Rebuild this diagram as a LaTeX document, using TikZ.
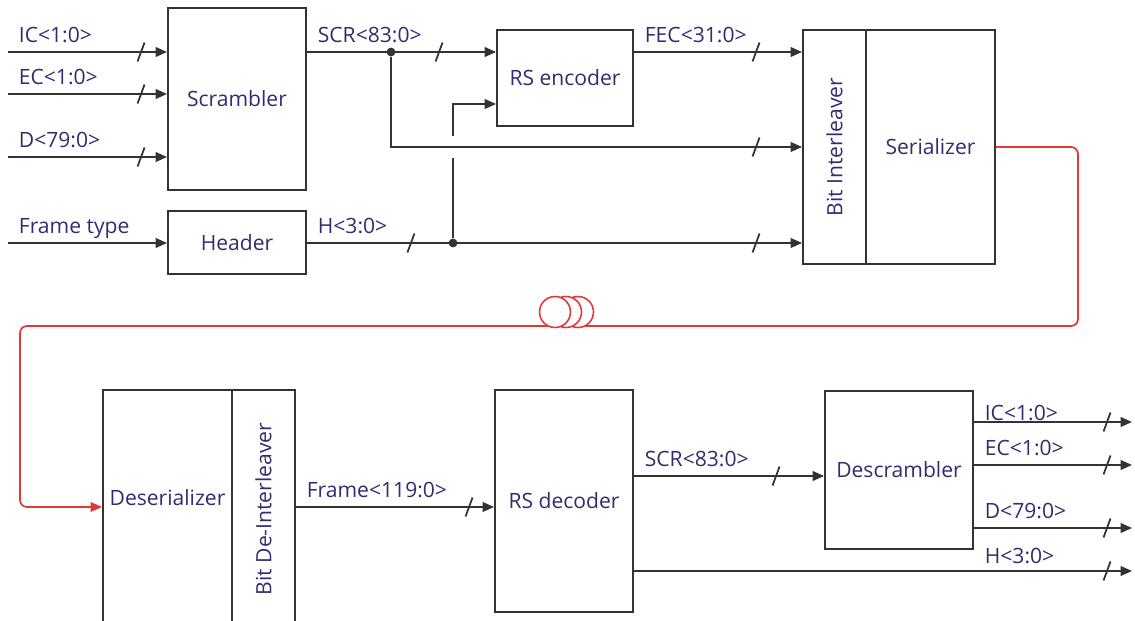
\documentclass[tikz,border=0pt]{standalone}
\usepackage{fontspec}
\setmainfont{Open Sans}
\usepackage{graphicx}
\usepackage{tikz}
\usetikzlibrary{arrows.meta,positioning,calc,decorations.markings}
\definecolor{sdLine}{HTML}{333333}
\definecolor{sdText}{HTML}{2E2E70}
\definecolor{sdFiber}{HTML}{E0393B}
\tikzset{
    % boxes and signal styles
    block/.style={rectangle,draw=sdLine,line width=1.1pt,inner sep=0pt,text=sdText},
    boxtext/.style={text=sdText,inner sep=0pt},
    wire/.style={draw=sdLine,line width=1.1pt,-{Triangle[length=6.5pt,width=5.5pt]}},
    fiber/.style={draw=sdFiber,line width=1pt,-{Triangle[length=6.5pt,width=5.5pt]},rounded corners=4pt},
    siglabel/.style={text=sdText,inner sep=1pt,text depth=0pt},
    joint/.style={circle,fill=sdLine,inner sep=0pt,minimum size=5pt},
    bus/.style={postaction={decorate,decoration={markings,
        mark=at position #1 with {\draw[-,sdLine,line width=1pt] (-3.5,9.5) -- (3.5,-9.5);}}}}
}

\begin{document}
\begin{tikzpicture}[x=0.02cm,y=-0.02cm,font=\fontsize{12}{14.4}\selectfont]
    \useasboundingbox (0,0) rectangle (1135,621);
    \clip (0,0) rectangle (1135,621);

    % Transmitter blocks
    \node[block,minimum width=2.76cm,minimum height=3.64cm] (scr) at (237,99) {Scrambler};
    \node[block,minimum width=2.76cm,minimum height=1.26cm] (hdr) at (237,242.5) {Header};
    \node[block,minimum width=2.72cm,minimum height=1.92cm] (enc) at (565,78) {RS encoder};
    \node[block,minimum width=1.26cm,minimum height=4.68cm] (bil) at (834.5,147) {\rotatebox{90}{Bit Interleaver}};
    \node[block,minimum width=2.58cm,minimum height=4.68cm] (ser) at (930.5,147) {Serializer};

    % Receiver blocks
    \node[block,minimum width=2.58cm,minimum height=5.0cm] (desbox) at (167.5,515) {};
    \node[boxtext] (destxt) at (167.5,498) {Deserializer};
    \node[block,minimum width=1.26cm,minimum height=5.0cm] (dilbox) at (263.5,515) {};
    \node[boxtext] (diltxt) at (263.5,509) {\rotatebox{90}{Bit De-Interleaver}};
    \node[block,minimum width=2.76cm,minimum height=4.44cm] (dec) at (564,501) {RS decoder};
    \node[block,minimum width=2.96cm,minimum height=3.16cm] (dsc) at (899,470) {Descrambler};

    % Signal rows
    \coordinate (inIC) at (8,52);
    \coordinate (inEC) at (8,94);
    \coordinate (inD) at (8,157);
    \coordinate (inFT) at (8,243);
    \coordinate (rBr) at (0,147);
    \coordinate (rEn) at (0,104);
    \coordinate (rFr) at (0,507);
    \coordinate (rSc) at (0,476);
    \coordinate (oIC) at (1132,422);
    \coordinate (oEC) at (1132,465);
    \coordinate (oD) at (1132,528);
    \coordinate (oH) at (1132,571);
    \coordinate (fR) at (1078,326);
    \coordinate (fL) at (20,326);

    % Label anchors
    \coordinate (sSCR) at (scr.east |- inIC);
    \coordinate (sH) at (hdr.east |- inFT);
    \coordinate (sFEC) at (enc.east |- inIC);
    \coordinate (sFr) at (dilbox.east |- rFr);
    \coordinate (sSc) at (dec.east |- rSc);
    \coordinate (sIC) at (dsc.east |- oIC);
    \coordinate (sEC) at (dsc.east |- oEC);
    \coordinate (sD) at (dsc.east |- oD);
    \coordinate (sHo) at (dsc.east |- oH);

    % Inputs
    \draw[wire,bus=-0.52cm] (inIC) -- (scr.west |- inIC);
    \draw[wire,bus=-0.52cm] (inEC) -- (scr.west |- inEC);
    \draw[wire,bus=-0.52cm] (inD) -- (scr.west |- inD);
    \draw[wire] (inFT) -- (hdr.west |- inFT);
    \node[siglabel,above right=4pt and 5pt of inIC] (lIC) {IC<1:0>};
    \node[siglabel,above right=4pt and 5pt of inEC] (lEC) {EC<1:0>};
    \node[siglabel,above right=4pt and 5pt of inD] (lD) {D<79:0>};
    \node[siglabel,above right=4pt and 5pt of inFT] (lFT) {Frame type};

    % Encoder side
    \node[joint] (j1) at (391,52) {};
    \node[joint] (j2) at (453,243) {};
    \draw[wire,bus=-1.14cm] (sSCR) -- (enc.west |- inIC);
    \draw[wire,bus=-0.92cm] (j1) |- (bil.west |- rBr);
    \draw[wire,bus=-0.92cm] (sFEC) -- (bil.west |- inIC);
    \draw[wire,bus=2.08cm,bus=-0.92cm] (sH) -- (bil.west |- inFT);
    \coordinate (cx) at (j2 |- rBr);
    \draw[wire] (j2) -- ([yshift=-0.22cm]cx) ([yshift=0.22cm]cx) |- (enc.west |- rEn);
    \node[siglabel,above right=4pt and 5pt of sSCR] (lSCR) {SCR<83:0>};
    \node[siglabel,above right=4pt and 5pt of sH] (lH) {H<3:0>};
    \node[siglabel,above right=4pt and 5pt of sFEC] (lFEC) {FEC<31:0>};

    % Fiber link
    \draw[fiber] (ser.east) -| (fR) -- (fL) |- (desbox.west |- rFr);
    \draw[draw=sdFiber,line width=0.9pt,fill=white] (578,312) circle [radius=0.31cm];
    \draw[draw=sdFiber,line width=0.9pt,fill=white] (566,312) circle [radius=0.31cm];
    \draw[draw=sdFiber,line width=0.9pt,fill=white] (555,312) circle [radius=0.31cm];

    % Decoder side
    \draw[wire,bus=-0.5cm] (sFr) -- (dec.west |- rFr);
    \draw[wire,bus=-0.96cm] (sSc) -- (dsc.west |- rSc);
    \draw[wire,bus=-0.5cm] (sIC) -- (oIC);
    \draw[wire,bus=-0.5cm] (sEC) -- (oEC);
    \draw[wire,bus=-0.5cm] (sD) -- (oD);
    \draw[wire,bus=-0.5cm] (dec.east |- oH) -- (oH);
    \node[siglabel,above right=4pt and 5pt of sFr] (lFr) {Frame<119:0>};
    \node[siglabel,above right=4pt and 5pt of sSc] (lSc) {SCR<83:0>};
    \node[siglabel,above right=-0.3pt and 5pt of sIC] (lICo) {IC<1:0>};
    \node[siglabel,above right=4pt and 5pt of sEC] (lECo) {EC<1:0>};
    \node[siglabel,above right=4pt and 5pt of sD] (lDo) {D<79:0>};
    \node[siglabel,above right=3pt and 5pt of sHo] (lHo) {H<3:0>};
\end{tikzpicture}
\end{document}
